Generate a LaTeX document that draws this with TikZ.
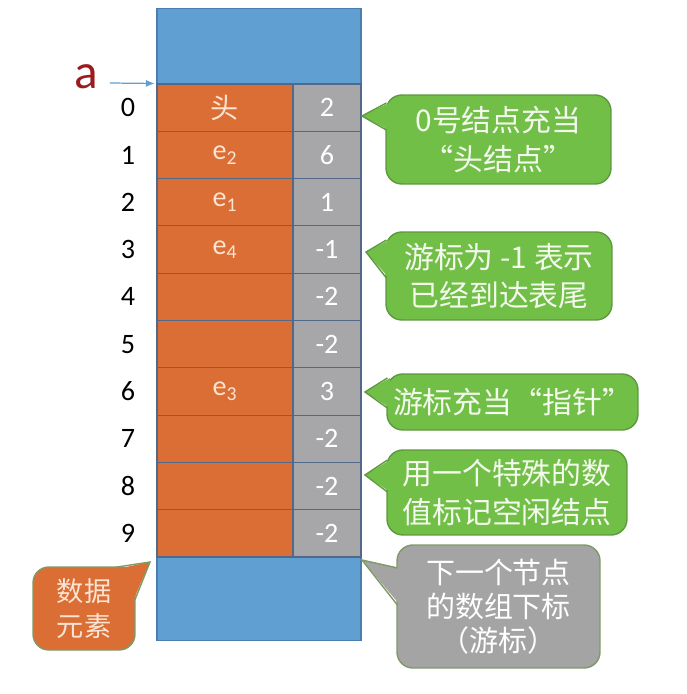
\documentclass[tikz,border=0pt]{standalone}
\usepackage{fontspec}
\setmainfont{Carlito}
\newfontfamily\cjk{Noto Sans CJK SC}
\usetikzlibrary{arrows.meta,positioning}
\definecolor{arrblue}{HTML}{5F9FD1}
\definecolor{arrline}{HTML}{4A7EB0}
\definecolor{dataorange}{HTML}{DB6E35}
\definecolor{nextgray}{HTML}{A7A6A8}
\definecolor{cellline}{HTML}{52698A}
\definecolor{callgreen}{HTML}{71BF46}
\definecolor{greenline}{HTML}{5C9A3E}
\definecolor{callgray}{HTML}{A4A4A4}
\definecolor{otherline}{HTML}{7E9A66}
\definecolor{aname}{HTML}{9B1C1F}
\definecolor{softtext}{HTML}{F4F9EE}
\definecolor{peach}{HTML}{FBE4D2}

\begin{document}
\begin{tikzpicture}[x=0.02cm, y=-0.02cm,
    arraybox/.style={draw=arrline, fill=arrblue, line width=0.6pt, minimum width=4.08cm, minimum height=12.66cm, inner sep=0pt},
    datacell/.style={draw=cellline, fill=dataorange, line width=0.6pt, minimum width=2.72cm, minimum height=0.946cm, inner sep=0pt, text=peach, font=\fontsize{16}{19}\selectfont},
    nextcell/.style={datacell, fill=nextgray, minimum width=1.36cm, text=white},
    idx/.style={font=\fontsize{16}{19}\selectfont},
    callout/.style={draw=greenline, fill=callgreen, line width=0.8pt, rounded corners=9pt, inner sep=0pt, align=center, text=softtext, font=\cjk\fontsize{17}{22}\selectfont},
    tipline/.style={draw=greenline, line width=0.8pt, line join=miter},
    aptr/.style={-{Latex[length=5pt,width=4pt]}, draw=arrblue, line width=0.7pt}
]
    \useasboundingbox (0,0) rectangle (687,694);

    % the array
    \node[arraybox] (arr) at (259,324.5) {};
    \foreach \i/\dat/\nxt in {0/{\cjk 头}/2, 1/e\textsubscript{2}/6, 2/e\textsubscript{1}/1, 3/e\textsubscript{4}/-1, 4//-2, 5//-2, 6/e\textsubscript{3}/3, 7//-2, 8//-2, 9//-2}{
        \node[datacell] (d\i) at (225,{107.65+47.3*\i}) {\dat};
        \node[nextcell] (p\i) at (327,{107.65+47.3*\i}) {\nxt};
        \node[idx] (i\i) at (128,{107.65+47.3*\i}) {\i};
    }

    % head pointer a
    \node[text=aname, font=\fontsize{28}{30}\selectfont] (a) at (86,77) {a};
    \coordinate (astart) at (110,83);
    \draw[aptr] (astart) -- ([xshift=-1pt]d0.north west);

    % green callouts
    \node[callout, minimum width=4.5cm, minimum height=1.78cm] (headnote) at (498.5,139.5) {0号结点充当\\“头结点”};
    \coordinate (tip1) at (362,116);
    \fill[callgreen] (389,103) -- (tip1) -- (389,130) -- cycle;
    \draw[tipline] (386.4,103) -- (tip1) -- (386.4,130);

    \node[callout, minimum width=4.52cm, minimum height=1.76cm] (endnote) at (499,276) {游标为 -1 表示\\已经到达表尾};
    \coordinate (tip2) at (366,252);
    \fill[callgreen] (389,240) -- (tip2) -- (389,278) -- cycle;
    \draw[tipline] (386.4,240) -- (tip2) -- (386.4,278);

    \node[callout, minimum width=5.02cm, minimum height=1.12cm] (ptrnote) at (512.5,402) {游标充当“指针”};
    \coordinate (tip3) at (365,392);
    \fill[callgreen] (390,378) -- (tip3) -- (390,408) -- cycle;
    \draw[tipline] (387.4,378) -- (tip3) -- (387.4,408);

    \node[callout, minimum width=4.8cm, minimum height=1.7cm] (freenote) at (507,492.5) {用一个特殊的数\\值标记空闲结点};
    \coordinate (tip4) at (365,475);
    \fill[callgreen] (390,460) -- (tip4) -- (390,492) -- cycle;
    \draw[tipline] (387.4,460) -- (tip4) -- (387.4,492);

    % gray callout for the cursor column
    \node[callout, draw=otherline, fill=callgray, text=white, font=\cjk\fontsize{16.5}{19.5}\selectfont, minimum width=4.06cm, minimum height=2.46cm] (cursornote) at (498.5,606.5) {下一个节点\\的数组下标\\（游标）};
    \coordinate (tip5) at (362,560);
    \fill[callgray] (400,568) -- (tip5) -- (400,605) -- cycle;
    \draw[tipline, draw=otherline] (397.4,568) -- (tip5) -- (397.4,605);

    % orange callout for the data column
    \node[callout, draw=otherline, fill=dataorange, text=peach, font=\cjk\fontsize{15.5}{20}\selectfont, minimum width=2.04cm, minimum height=1.66cm] (datanote) at (84,608.5) {数据\\元素};
    \coordinate (tip6) at (150,562);
    \fill[dataorange] (114,569.5) -- (tip6) -- (132.5,602) -- cycle;
    \draw[tipline, draw=otherline] (116,567.2) -- (tip6) -- (134.8,600);
\end{tikzpicture}
\end{document}
